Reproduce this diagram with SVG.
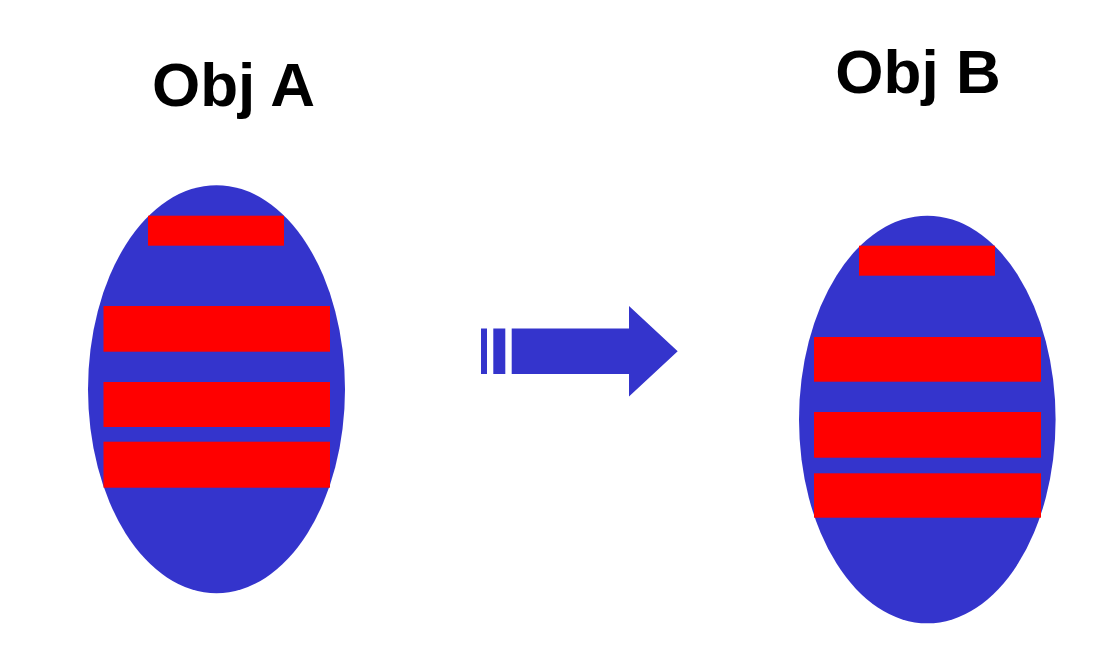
<svg xmlns="http://www.w3.org/2000/svg" width="1116" height="666" viewBox="0 0 1116 666">
<style>
.body{fill:#3434cc}
.bar{fill:#ff0000}
.title{font-family:"Liberation Sans",Arial,sans-serif;font-weight:bold;font-size:62px;fill:#000;text-anchor:middle}
</style>
<rect width="1116" height="666" fill="#fff"/>
<g id="objA">
<text class="title" x="233.5" y="106">Obj A</text>
<ellipse class="body" cx="216.5" cy="389.2" rx="128.5" ry="204"/>
<rect class="bar" x="148" y="215.7" width="136" height="30"/>
<rect class="bar" x="103.5" y="306" width="226.5" height="45.7"/>
<rect class="bar" x="103.5" y="382" width="226.5" height="45"/>
<rect class="bar" x="103.5" y="441.7" width="226.5" height="46"/>
</g>
<g id="objB">
<text class="title" x="918" y="92.5">Obj B</text>
<ellipse class="body" cx="927.3" cy="419.5" rx="128.3" ry="203.8"/>
<rect class="bar" x="859" y="245.7" width="136" height="30"/>
<rect class="bar" x="814" y="337" width="227" height="44.7"/>
<rect class="bar" x="814" y="412" width="227" height="45.7"/>
<rect class="bar" x="814" y="473.3" width="227" height="44.4"/>
</g>
<g id="connectors">
<rect class="body" x="481" y="328.5" width="6" height="45.5"/>
<rect class="body" x="493.3" y="328.5" width="12" height="45.5"/>
<polygon class="body" points="511.7,328.5 629,328.5 629,306 677.7,351.2 629,396.5 629,374 511.7,374"/>
</g>
</svg>
